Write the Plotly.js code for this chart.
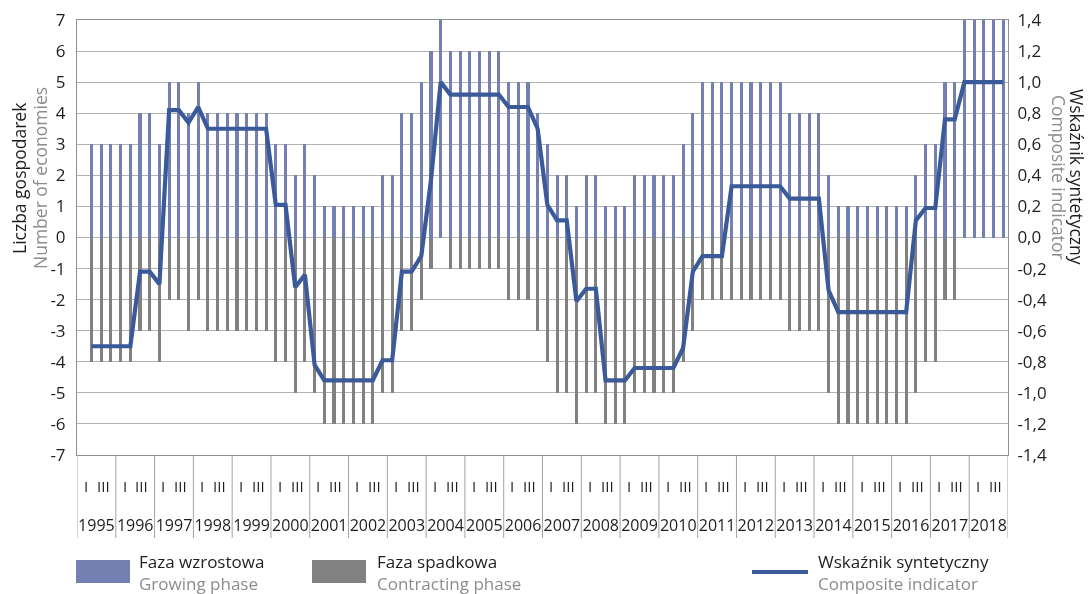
<!DOCTYPE html>
<html><head><meta charset="utf-8">
<script src="https://cdn.plot.ly/plotly-3.0.1.min.js"></script>
<style>html,body{margin:0;padding:0;background:#fff}#chart{width:1090px;height:594px}
.main-svg{will-change:transform}</style>
</head><body><div id="chart"></div>
<script>
// ---------- DATA ----------
const years = [1995,1996,1997,1998,1999,2000,2001,2002,2003,2004,2005,2006,
               2007,2008,2009,2010,2011,2012,2013,2014,2015,2016,2017,2018];
const quarterMarks = ['I', 'III'];
// series start in 1995 Q2 (quarter index 1), end in 2018 Q4
const firstQuarterIndex = 1;

// Faza wzrostowa / Growing phase (number of economies)
const growing = [
  3,3,3,        // 1995 Q2-Q4
  3,3,4,4,      // 1996
  3,5,5,4,      // 1997
  5,4,4,4,      // 1998
  4,4,4,4,      // 1999
  3,3,2,3,      // 2000
  2,1,1,1,      // 2001
  1,1,1,2,      // 2002
  2,4,4,5,      // 2003
  6,7,6,6,      // 2004
  6,6,6,6,      // 2005
  5,5,5,4,      // 2006
  3,2,2,1,      // 2007
  2,2,1,1,      // 2008
  1,2,2,2,      // 2009
  2,2,3,4,      // 2010
  5,5,5,5,      // 2011
  5,5,5,5,      // 2012
  5,4,4,4,      // 2013
  4,2,1,1,      // 2014
  1,1,1,1,      // 2015
  1,1,2,3,      // 2016
  3,5,5,7,      // 2017
  7,7,7,7       // 2018
];
// Faza spadkowa / Contracting phase (number of economies, negative)
const contracting = [
  -4,-4,-4,
  -4,-4,-3,-3,
  -4,-2,-2,-3,
  -2,-3,-3,-3,
  -3,-3,-3,-3,
  -4,-4,-5,-4,
  -5,-6,-6,-6,
  -6,-6,-6,-5,
  -5,-3,-3,-2,
  -1,0,-1,-1,
  -1,-1,-1,-1,
  -2,-2,-2,-3,
  -4,-5,-5,-6,
  -5,-5,-6,-6,
  -6,-5,-5,-5,
  -5,-5,-4,-3,
  -2,-2,-2,-2,
  -2,-2,-2,-2,
  -2,-3,-3,-3,
  -3,-5,-6,-6,
  -6,-6,-6,-6,
  -6,-6,-5,-4,
  -4,-2,-2,0,
  0,0,0,0
];
// Wskaźnik syntetyczny / Composite indicator (right axis)
const composite = [
  -0.70,-0.70,-0.70,
  -0.70,-0.70,-0.22,-0.22,
  -0.30,0.82,0.82,0.74,
  0.84,0.70,0.70,0.70,
  0.70,0.70,0.70,0.70,
  0.21,0.21,-0.32,-0.24,
  -0.82,-0.92,-0.92,-0.92,
  -0.92,-0.92,-0.92,-0.79,
  -0.79,-0.22,-0.22,-0.12,
  0.37,1.00,0.92,0.92,
  0.92,0.92,0.92,0.92,
  0.84,0.84,0.84,0.70,
  0.21,0.11,0.11,-0.41,
  -0.33,-0.33,-0.92,-0.92,
  -0.92,-0.84,-0.84,-0.84,
  -0.84,-0.84,-0.71,-0.22,
  -0.12,-0.12,-0.12,0.33,
  0.33,0.33,0.33,0.33,
  0.33,0.25,0.25,0.25,
  0.25,-0.34,-0.48,-0.48,
  -0.48,-0.48,-0.48,-0.48,
  -0.48,-0.48,0.11,0.19,
  0.19,0.76,0.76,1.00,
  1.00,1.00,1.00,1.00
];
const leftTickVals = [-7,-6,-5,-4,-3,-2,-1,0,1,2,3,4,5,6,7];
const leftTickText = ['-7','-6','-5','-4','-3','-2','-1','0','1','2','3','4','5','6','7'];
const rightTickVals = [-1.4,-1.2,-1.0,-0.8,-0.6,-0.4,-0.2,0,0.2,0.4,0.6,0.8,1.0,1.2,1.4];
const rightTickText = ['-1,4','-1,2','-1,0','-0,8','-0,6','-0,4','-0,2','0,0','0,2','0,4','0,6','0,8','1,0','1,2','1,4'];
const seriesNames = {
  growing: ['Faza wzrostowa', 'Growing phase'],
  contracting: ['Faza spadkowa', 'Contracting phase'],
  composite: ['Wskaźnik syntetyczny', 'Composite indicator']
};
const leftTitle = ['Liczba gospodarek', 'Number of economies'];
const rightTitle = ['Wskaźnik syntetyczny', 'Composite indicator'];

// ---------- STYLE ----------
const FONT = 'Open Sans, Noto Sans, sans-serif';
const C_GROW = '#7480b2', C_CONTR = '#818181', C_LINE = '#3b5a99';
const C_TEXT = '#1e1e1e', C_SUB = '#8c8c8c', C_GRID = '#b3b3b3', C_AXIS = '#8f8f8f';
const L = 77, T = 20, W = 931, H = 435;
const px = x => (x - L) / W;
const py = y => (T + H - y) / H;

const xs = growing.map((_, j) => firstQuarterIndex + j);
const nQ = years.length * 4;

const traces = [
  {type: 'bar', x: xs, y: growing, name: seriesNames.growing[0], marker: {color: C_GROW}, width: 0.32, hoverinfo: 'x+y'},
  {type: 'bar', x: xs, y: contracting, name: seriesNames.contracting[0], marker: {color: C_CONTR}, width: 0.32, hoverinfo: 'x+y'},
  {type: 'scatter', mode: 'lines', x: xs, y: composite, yaxis: 'y2', name: seriesNames.composite[0],
   line: {color: C_LINE, width: 4.2}}
];

const shapes = [];
for (let k = 0; k <= years.length; k++) {
  shapes.push({type: 'line', xref: 'x', yref: 'paper', x0: 4*k - 0.5, x1: 4*k - 0.5, y0: py(538), y1: 0,
               line: {color: '#a3a3a3', width: 1}});
}
const annotations = [];
years.forEach((yr, k) => {
  annotations.push({xref: 'x', yref: 'paper', x: 4*k - 0.5 + 0.9, y: py(486), text: quarterMarks[0], showarrow: false,
                    xanchor: 'center', yanchor: 'middle', font: {family: FONT, size: 15, color: C_TEXT}});
  annotations.push({xref: 'x', yref: 'paper', x: 4*k - 0.5 + 2.7, y: py(486), text: quarterMarks[1], showarrow: false,
                    xanchor: 'center', yanchor: 'middle', font: {family: FONT, size: 15, color: C_TEXT}});
});
// axis titles
annotations.push({xref: 'paper', yref: 'paper', x: px(19), y: py(178), text: leftTitle[0], textangle: -90, showarrow: false,
                  xanchor: 'center', yanchor: 'middle', font: {family: FONT, size: 17.5, color: C_TEXT}});
annotations.push({xref: 'paper', yref: 'paper', x: px(40), y: py(178), text: leftTitle[1], textangle: -90, showarrow: false,
                  xanchor: 'center', yanchor: 'middle', font: {family: FONT, size: 17.5, color: C_SUB}});
annotations.push({xref: 'paper', yref: 'paper', x: px(1077), y: py(177), text: rightTitle[0], textangle: 90, showarrow: false,
                  xanchor: 'center', yanchor: 'middle', font: {family: FONT, size: 17.5, color: C_TEXT}});
annotations.push({xref: 'paper', yref: 'paper', x: px(1059), y: py(177), text: rightTitle[1], textangle: 90, showarrow: false,
                  xanchor: 'center', yanchor: 'middle', font: {family: FONT, size: 17.5, color: C_SUB}});
// custom legend
const legendItems = [
  {names: seriesNames.growing, kind: 'rect', color: C_GROW, x0: 76, x1: 130, tx: 137},
  {names: seriesNames.contracting, kind: 'rect', color: C_CONTR, x0: 312, x1: 366, tx: 375},
  {names: seriesNames.composite, kind: 'line', color: C_LINE, x0: 752, x1: 808, tx: 816}
];
legendItems.forEach(it => {
  if (it.kind === 'rect') {
    shapes.push({type: 'rect', xref: 'paper', yref: 'paper', x0: px(it.x0), x1: px(it.x1), y0: py(583), y1: py(560),
                 fillcolor: it.color, line: {width: 0}});
  } else {
    shapes.push({type: 'line', xref: 'paper', yref: 'paper', x0: px(it.x0), x1: px(it.x1), y0: py(572), y1: py(572),
                 line: {color: it.color, width: 4}});
  }
  annotations.push({xref: 'paper', yref: 'paper', x: px(it.tx), y: py(572),
                    text: it.names[0] + '<br><span style="color:' + C_SUB + '">' + it.names[1] + '</span>',
                    showarrow: false, align: 'left',
                    xanchor: 'left', yanchor: 'middle', font: {family: FONT, size: 17, color: C_TEXT}});
});

const layout = {
  width: 1090, height: 594,
  margin: {l: L, r: 1090 - L - W, t: T, b: 594 - T - H, pad: 0},
  paper_bgcolor: '#fff', plot_bgcolor: '#fff',
  showlegend: false, barmode: 'relative', bargap: 0,
  font: {family: FONT, color: C_TEXT},
  xaxis: {range: [-0.5, nQ - 0.5], showgrid: false, zeroline: false, showline: true, linecolor: C_AXIS, mirror: true,
          tickmode: 'array', tickvals: years.map((_, k) => 4*k + 1.5), ticktext: years.map(String), tickangle: 0,
          ticks: 'outside', ticklen: 56, tickcolor: 'rgba(0,0,0,0)', tickfont: {family: FONT, size: 16, color: C_TEXT}},
  yaxis: {range: [-7, 7], tickmode: 'array', tickvals: leftTickVals, ticktext: leftTickText, showgrid: true,
          gridcolor: C_GRID, gridwidth: 1, zeroline: false, showline: true, linecolor: C_AXIS,
          ticks: 'outside', ticklen: 7, tickcolor: 'rgba(0,0,0,0)', tickfont: {family: FONT, size: 17, color: C_TEXT}},
  yaxis2: {range: [-1.4, 1.4], overlaying: 'y', side: 'right', tickmode: 'array', tickvals: rightTickVals,
           ticktext: rightTickText, showgrid: false, zeroline: false, showline: true, linecolor: C_AXIS,
           ticks: 'outside', ticklen: 5, tickcolor: 'rgba(0,0,0,0)', tickfont: {family: FONT, size: 17, color: C_TEXT}},
  shapes: shapes,
  annotations: annotations
};
Plotly.newPlot('chart', traces, layout, {displayModeBar: false, staticPlot: true});
</script></body></html>
